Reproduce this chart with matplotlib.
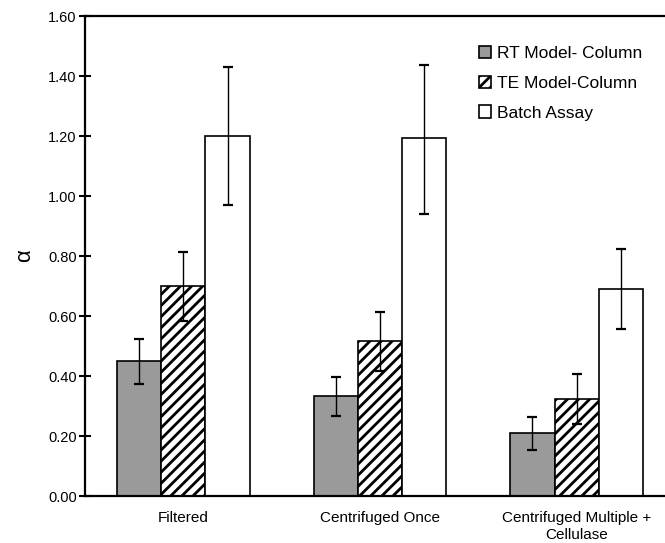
import matplotlib
matplotlib.use('Agg')
import matplotlib.pyplot as plt
import numpy as np

plt.rcParams['font.family'] = ['Liberation Sans', 'DejaVu Sans']
plt.rcParams['hatch.linewidth'] = 2.0

categories = ['Filtered', 'Centrifuged Once', 'Centrifuged Multiple +\nCellulase']
seriesNames = ['RT Model- Column', 'TE Model-Column', 'Batch Assay']

rtValues = [0.45, 0.335, 0.21]
rtLower = [0.375, 0.268, 0.153]
rtUpper = [0.525, 0.397, 0.262]

teValues = [0.70, 0.518, 0.323]
teLower = [0.585, 0.418, 0.240]
teUpper = [0.815, 0.613, 0.407]

batchValues = [1.20, 1.192, 0.69]
batchLower = [0.97, 0.939, 0.556]
batchUpper = [1.43, 1.437, 0.823]

yTicks = [0.0, 0.2, 0.4, 0.6, 0.8, 1.0, 1.2, 1.4, 1.6]

fig = plt.figure(figsize=(6.65, 5.43), dpi=100)
ax = fig.add_axes([85 / 665, (543 - 496) / 543, 590 / 665, 480 / 543])

x = np.arange(len(categories))
barWidth = 0.225

styles = [
    dict(color='#9a9a9a', hatch=None),
    dict(color='white', hatch='///'),
    dict(color='white', hatch=None),
]
allValues = [rtValues, teValues, batchValues]
allLower = [rtLower, teLower, batchLower]
allUpper = [rtUpper, teUpper, batchUpper]

for i in range(3):
    pos = x + (i - 1) * barWidth
    vals = np.array(allValues[i])
    lo = vals - np.array(allLower[i])
    hi = np.array(allUpper[i]) - vals
    ax.bar(pos, vals, barWidth, color=styles[i]['color'], hatch=styles[i]['hatch'],
           edgecolor='black', linewidth=1.2, label=seriesNames[i], zorder=2)
    ax.errorbar(pos, vals, yerr=[lo, hi], fmt='none', ecolor='black',
                elinewidth=1.0, capsize=3.5, capthick=1.6, zorder=3)

ax.set_xlim(-0.5, 2.5)
ax.set_ylim(0, 1.6)
ax.set_yticks(yTicks)
ax.set_yticklabels(['%.2f' % t for t in yTicks], fontsize=10.5)
ax.set_xticks(x)
ax.set_xticklabels(categories, fontsize=11, linespacing=1.25)
ax.tick_params(axis='x', length=0, pad=11)
ax.tick_params(axis='y', direction='inout', length=8, width=1.5, pad=2)

for side in ['left', 'bottom', 'top', 'right']:
    ax.spines[side].set_linewidth(1.6)

ax.set_ylabel('α', fontsize=16)
ax.yaxis.set_label_coords(-0.085, 0.5)

ax.legend(loc='upper left', bbox_to_anchor=(463 / 665, 1 - 30 / 543),
          bbox_transform=fig.transFigure, frameon=False, fontsize=12.5,
          handlelength=0.7, handleheight=0.7, handletextpad=0.35, labelspacing=0.85)

fig.savefig('out.png', dpi=100)
